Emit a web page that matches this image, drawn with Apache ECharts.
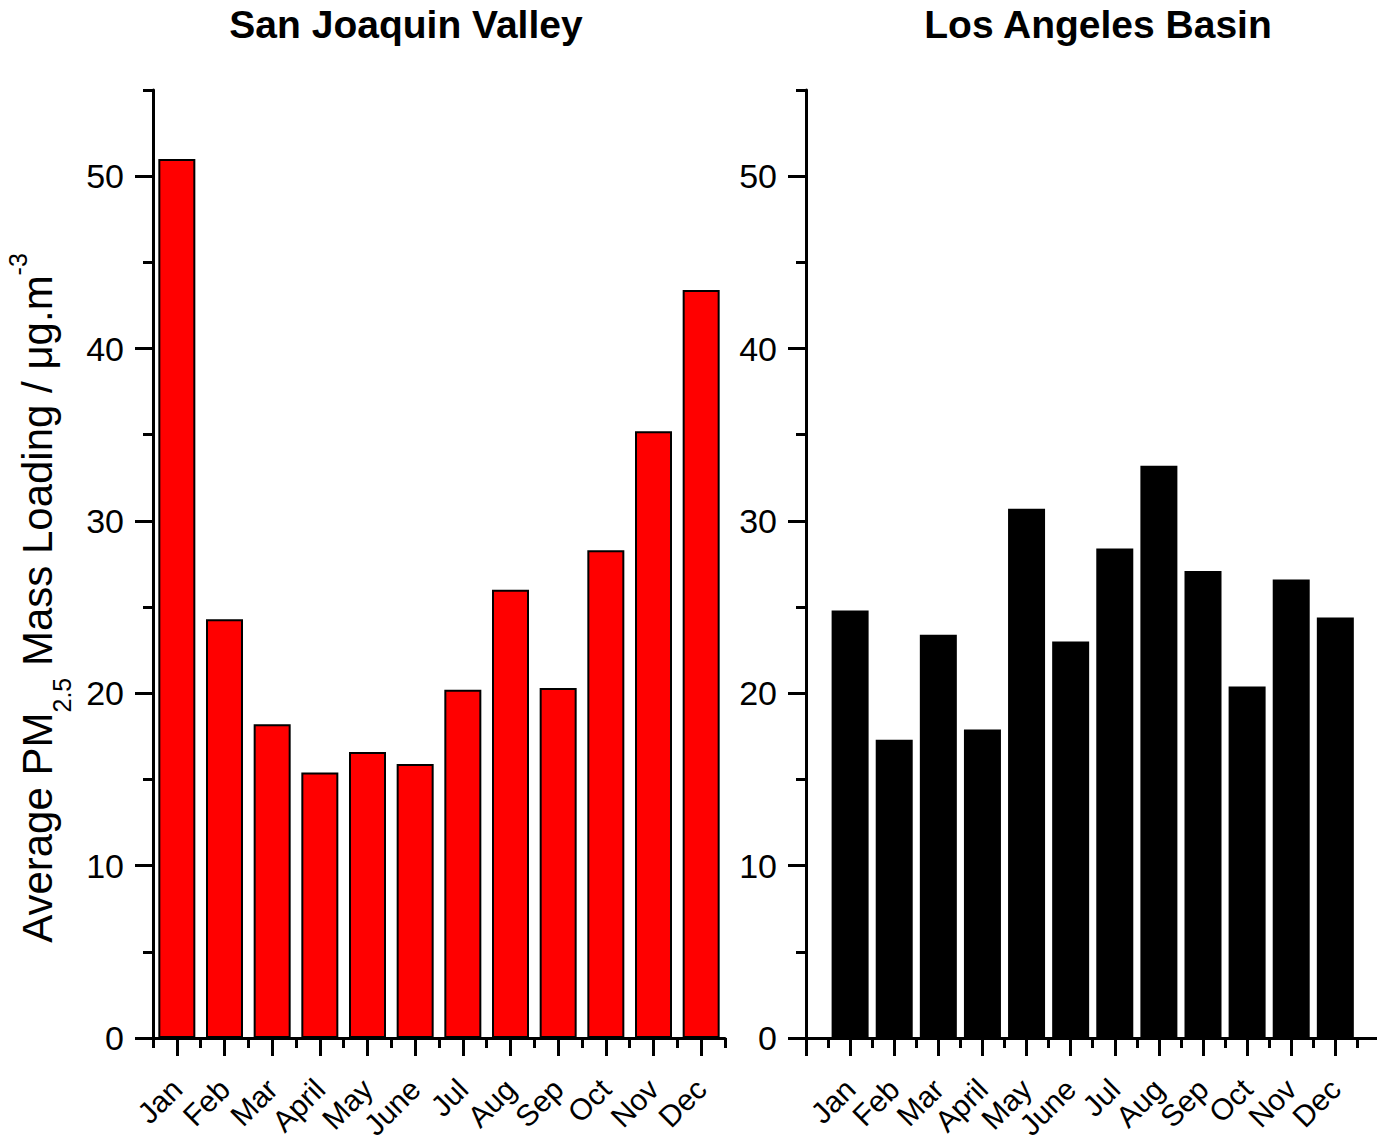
<!DOCTYPE html>
<html><head><meta charset="utf-8">
<script src="https://cdn.jsdelivr.net/npm/echarts@6/dist/echarts.min.js"></script>
<style>html,body{margin:0;padding:0;background:#fff}#c{width:1377px;height:1145px}</style>
</head><body><div id="c"></div>
<script>
const months = ['Jan','Feb','Mar','April','May','June','Jul','Aug','Sep','Oct','Nov','Dec'];
const sanJoaquin = [51.0, 24.3, 18.2, 15.4, 16.6, 15.9, 20.2, 26.0, 20.3, 28.3, 35.2, 43.4];
const losAngeles = [24.8, 17.3, 23.4, 17.9, 30.7, 23.0, 28.4, 33.2, 27.1, 20.4, 26.6, 24.4];
const yMajorTicks = [0, 10, 20, 30, 40, 50];
const yMinorTicks = [5, 15, 25, 35, 45, 55];
const monthPos = [1,2,3,4,5,6,7,8,9,10,11,12];
const leftMinorX = [0.5,1.5,2.5,3.5,4.5,5.5,6.5,7.5,8.5,9.5,10.5,11.5,12.5];
const rightMajorX = [0,1,2,3,4,5,6,7,8,9,10,11,12];
const rightMinorX = [0.5,1.5,2.5,3.5,4.5,5.5,6.5,7.5,8.5,9.5,10.5,11.5,12.5,13.5];
const panelTitles = ['San Joaquin Valley', 'Los Angeles Basin'];

const FF = "'Liberation Sans', Arial, sans-serif";
const black = '#000';

function yAxes(g, withName) {
  const main = {
    type: 'value', gridIndex: g, min: 0, max: 55, position: 'left',
    axisLine: { show: true, lineStyle: { color: black, width: 3 } },
    axisTick: { show: true, inside: false, length: 18, customValues: yMajorTicks, lineStyle: { color: black, width: 3 } },
    axisLabel: { show: true, customValues: yMajorTicks, margin: 29, fontSize: 34, color: black, fontFamily: FF },
    splitLine: { show: false }
  };
  if (withName) {
    main.name = '{n|Average PM}{sub|2.5}{n| Mass Loading / \u03bcg.m}{sup|-3}';
    main.nameLocation = 'middle';
    main.nameRotate = 90;
    main.nameGap = 79;
    main.nameTextStyle = {
      color: black, fontFamily: FF, fontSize: 42, padding: [0, 68, 0, 0],
      rich: {
        n: { fontSize: 42, lineHeight: 73, fontFamily: FF, color: black, verticalAlign: 'middle' },
        sub: { fontSize: 25, lineHeight: 25, fontFamily: FF, color: black, verticalAlign: 'bottom' },
        sup: { fontSize: 25, lineHeight: 25, fontFamily: FF, color: black, verticalAlign: 'top', padding: [4, 0, 0, 0] }
      }
    };
  }
  const minor = {
    type: 'value', gridIndex: g, min: 0, max: 55, position: 'left', offset: 0,
    axisLine: { show: false },
    axisTick: { show: true, inside: false, length: 10, customValues: yMinorTicks, lineStyle: { color: black, width: 3 } },
    axisLabel: { show: false },
    splitLine: { show: false }
  };
  return [main, minor];
}

function xAxes(g, min, max, major, minor) {
  return [{
    type: 'value', gridIndex: g, min: min, max: max, position: 'bottom',
    axisLine: { show: true, onZero: false, lineStyle: { color: black, width: 3 } },
    axisTick: { show: true, inside: false, length: 18, customValues: major, lineStyle: { color: black, width: 3 } },
    axisLabel: { show: true, customValues: monthPos, rotate: 45, margin: 46, fontSize: 30, color: black, fontFamily: FF,
      formatter: v => months[Math.round(v) - 1] || '' },
    splitLine: { show: false }
  }, {
    type: 'value', gridIndex: g, min: min, max: max, position: 'bottom', offset: 0,
    axisLine: { show: false },
    axisTick: { show: true, inside: false, length: 10, customValues: minor, lineStyle: { color: black, width: 3 } },
    axisLabel: { show: false },
    splitLine: { show: false }
  }];
}

const chart = echarts.init(document.getElementById('c'), null, { renderer: 'svg' });
chart.setOption({
  animation: false,
  backgroundColor: '#fff',
  graphic: [
    { type: 'text', x: 406, y: 24, style: { text: panelTitles[0], fontSize: 39, fontWeight: 'bold', fontFamily: FF, fill: black, align: 'center', verticalAlign: 'middle', textAlign: 'center', textVerticalAlign: 'middle' } },
    { type: 'text', x: 1098, y: 24, style: { text: panelTitles[1], fontSize: 39, fontWeight: 'bold', fontFamily: FF, fill: black, align: 'center', verticalAlign: 'middle', textAlign: 'center', textVerticalAlign: 'middle' } }
  ],
  grid: [
    { left: 153, top: 90, width: 572, height: 948, containLabel: false, outerBoundsMode: 'none' },
    { left: 806, top: 90, width: 595.5, height: 948, containLabel: false, outerBoundsMode: 'none' }
  ],
  xAxis: [].concat(xAxes(0, 0.5, 12.5, monthPos, leftMinorX), xAxes(1, 0, 13.5, rightMajorX, rightMinorX)),
  yAxis: [].concat(yAxes(0, true), yAxes(1, false)),
  series: [
    { type: 'bar', xAxisIndex: 0, yAxisIndex: 0, barWidth: 37,
      data: sanJoaquin.map((v, i) => [monthPos[i], v]),
      itemStyle: { color: '#ff0000', borderColor: black, borderWidth: 2 } },
    { type: 'bar', xAxisIndex: 2, yAxisIndex: 2, barWidth: 37,
      data: losAngeles.map((v, i) => [monthPos[i], v]),
      itemStyle: { color: black, borderWidth: 0 } }
  ]
});
</script></body></html>
